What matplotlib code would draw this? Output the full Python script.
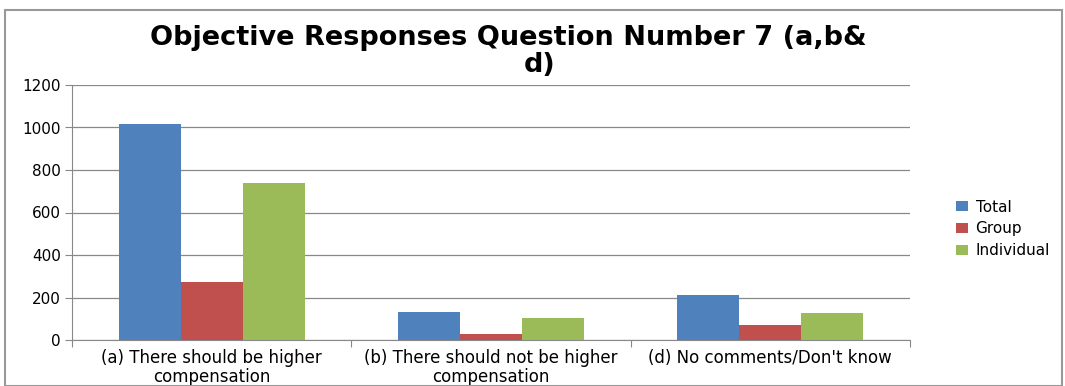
import matplotlib
matplotlib.use("Agg")
import matplotlib.pyplot as plt
from matplotlib.patches import Rectangle
import numpy as np

plt.rcParams['font.family'] = ['DejaVu Sans']

categories = ["(a) There should be higher\ncompensation",
              "(b) There should not be higher\ncompensation",
              "(d) No comments/Don't know"]
series_names = ["Total", "Group", "Individual"]
total = [1016, 132, 212]
group = [273, 28, 70]
individual = [739, 102, 127]
yticks = [0, 200, 400, 600, 800, 1000, 1200]
colors = ["#4F81BD", "#C0504D", "#9BBB59"]
title_lines = ["Objective Responses Question Number 7 (a,b&", "d)"]

fig = plt.figure(figsize=(10.65, 3.86), dpi=100)
ax = fig.add_axes([72/1065, 1-340/386, (910-72)/1065, (340-85)/386])

x = np.arange(len(categories))
w = 0.222
for i, (vals, name) in enumerate(zip([total, group, individual], series_names)):
    ax.bar(x + (i-1)*w, vals, width=w, color=colors[i], label=name, zorder=3)

ax.set_xlim(-0.5, len(categories)-0.5)
ax.set_ylim(0, 1200)
ax.set_yticks(yticks)
ax.set_yticklabels([str(t) for t in yticks], fontsize=11)
ax.yaxis.grid(True, color="#888888", linewidth=0.9, zorder=0)
for s in ["top", "right"]:
    ax.spines[s].set_visible(False)
ax.spines["left"].set_color("#888888")
ax.spines["bottom"].set_color("#888888")
ax.tick_params(axis="y", length=5, color="#888888", pad=3)

ax.set_xticks(np.arange(len(categories)+1) - 0.5)
ax.set_xticklabels([""]*(len(categories)+1))
ax.tick_params(axis="x", length=5, color="#888888")
for i, c in enumerate(categories):
    ax.text(i, -0.035, c, transform=ax.get_xaxis_transform(), ha="center", va="top",
            fontsize=12, linespacing=1.1)

fig.text(508/1065, 1-38/386, title_lines[0], ha="center", va="center",
         fontsize=19.5, fontweight="bold")
fig.text(540/1065, 1-65/386, title_lines[1], ha="center", va="center",
         fontsize=19.5, fontweight="bold")

leg = fig.legend(loc="center left", bbox_to_anchor=(942/1065, 1-229/386), frameon=False,
                 fontsize=11, handlelength=0.8, handleheight=0.6, labelspacing=0.45,
                 handletextpad=0.5)

fig.patches.append(Rectangle((5/1065, 0.0), 1057/1065, 1-10/386, transform=fig.transFigure,
                             fill=False, edgecolor="#999999", linewidth=1.5))

fig.savefig("out.png", dpi=100)
